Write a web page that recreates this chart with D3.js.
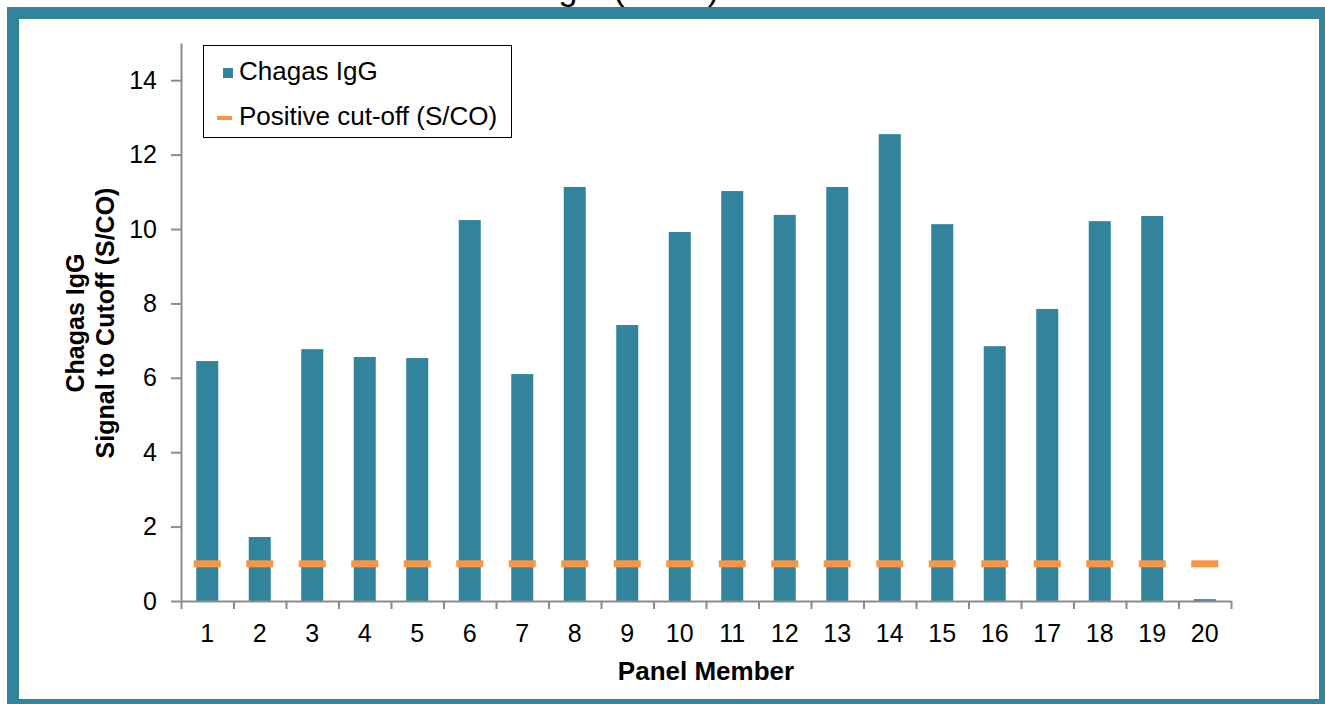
<!DOCTYPE html>
<html>
<head>
<meta charset="utf-8">
<script src="https://cdn.jsdelivr.net/npm/d3@7"></script>
<style>
  body { margin: 0; background: #fff; }
  svg { display: block; font-family: "Liberation Sans", Arial, sans-serif; }
</style>
</head>
<body>
<div id="chart"></div>
<script>
// Panel members and their S/CO values
const members = d3.range(1, 21).map(String);
const chagasIgG = [6.45, 1.72, 6.77, 6.56, 6.53, 10.24, 6.10, 11.13, 7.42, 9.92,
                   11.02, 10.38, 11.13, 12.55, 10.13, 6.85, 7.85, 10.21, 10.35, 0.05];
const cutoff = [1, 1, 1, 1, 1, 1, 1, 1, 1, 1, 1, 1, 1, 1, 1, 1, 1, 1, 1, 1];
const yTicks = [0, 2, 4, 6, 8, 10, 12, 14];

const W = 1325, H = 704;
const margin = {left: 181, right: 94, top: 43, bottom: 103};
const width = W - margin.left - margin.right;
const height = H - margin.top - margin.bottom;

const teal = "#31849B", orange = "#F79646", axisGrey = "#8c8c8c";

const svg = d3.select("#chart").append("svg")
    .attr("width", W)
    .attr("height", H);

// title, mostly cut off at the top of the picture
svg.append("text")
    .attr("x", 634).attr("y", 0)
    .attr("text-anchor", "middle")
    .style("font-size", "34px")
    .text("IgG (S/CO)");

// teal frame
svg.append("rect")
    .attr("x", 13).attr("y", 13)
    .attr("width", 1312).attr("height", 692)
    .attr("fill", "none")
    .attr("stroke", teal)
    .attr("stroke-width", 12);

const g = svg.append("g")
    .attr("transform", "translate(" + margin.left + "," + margin.top + ")");

const x = d3.scaleBand().domain(members).range([0, width]).padding(0);
const xEdges = d3.scaleLinear().domain([0, members.length]).range([0, width]);
const y = d3.scaleLinear().domain([0, 15]).range([height, 0]);

// Y axis
const yAxis = g.append("g")
    .call(d3.axisLeft(y).tickValues(yTicks).tickSize(10).tickSizeOuter(0).tickPadding(14));
yAxis.select(".domain").attr("stroke", axisGrey).attr("stroke-width", 2);
yAxis.selectAll(".tick line").attr("stroke", axisGrey).attr("stroke-width", 2);
yAxis.selectAll("text").style("font-size", "25px").attr("fill", "#000")
    .attr("font-family", null);

// bars
g.selectAll(".bar")
    .data(chagasIgG)
    .enter()
    .append("rect")
    .attr("class", "bar")
    .attr("x", (d, i) => x(members[i]) + (x.bandwidth() - 22) / 2)
    .attr("y", d => y(d))
    .attr("width", 22)
    .attr("height", d => height - y(d))
    .attr("fill", teal);

// X axis: tick marks at category edges, labels in the middle
const xTickAxis = g.append("g")
    .attr("transform", "translate(0," + height + ")")
    .call(d3.axisBottom(xEdges).tickValues(d3.range(members.length + 1)).tickFormat("").tickSize(8).tickSizeOuter(0));
xTickAxis.select(".domain").attr("stroke", axisGrey).attr("stroke-width", 2);
xTickAxis.selectAll(".tick line").attr("stroke", axisGrey).attr("stroke-width", 2);

const xLabelAxis = g.append("g")
    .attr("transform", "translate(0," + height + ")")
    .call(d3.axisBottom(x).tickSize(0).tickPadding(23));
xLabelAxis.select(".domain").remove();
xLabelAxis.selectAll("text").style("font-size", "25px").attr("fill", "#000")
    .attr("font-family", null);

// cut-off markers
g.selectAll(".cut")
    .data(cutoff)
    .enter()
    .append("rect")
    .attr("class", "cut")
    .attr("x", (d, i) => x(members[i]) + x.bandwidth() / 2 - 13.5)
    .attr("y", d => y(d) - 3.5)
    .attr("width", 27)
    .attr("height", 7)
    .attr("fill", orange);

// axis titles
svg.append("text")
    .attr("x", margin.left + width / 2).attr("y", 680)
    .attr("text-anchor", "middle")
    .style("font-size", "26px").style("font-weight", "bold")
    .text("Panel Member");

const yTitle = svg.append("text")
    .attr("transform", "translate(84,323) rotate(-90)")
    .attr("text-anchor", "middle")
    .style("font-size", "25px").style("font-weight", "bold");
yTitle.append("tspan").attr("x", 0).attr("y", 0).text("Chagas IgG");
yTitle.append("tspan").attr("x", 0).attr("y", 30).text("Signal to Cutoff (S/CO)");

// legend
const legend = svg.append("g");
legend.append("rect")
    .attr("x", 203.5).attr("y", 45.5)
    .attr("width", 308).attr("height", 92)
    .attr("fill", "#fff")
    .attr("stroke", "#000")
    .attr("stroke-width", 1);
legend.append("rect")
    .attr("x", 223).attr("y", 68).attr("width", 10).attr("height", 10)
    .attr("fill", teal);
legend.append("text")
    .attr("x", 239).attr("y", 80)
    .style("font-size", "26px")
    .text("Chagas IgG");
legend.append("rect")
    .attr("x", 217).attr("y", 116).attr("width", 15).attr("height", 4)
    .attr("fill", orange);
legend.append("text")
    .attr("x", 239).attr("y", 125)
    .style("font-size", "26px")
    .text("Positive cut-off (S/CO)");
</script>
</body>
</html>
